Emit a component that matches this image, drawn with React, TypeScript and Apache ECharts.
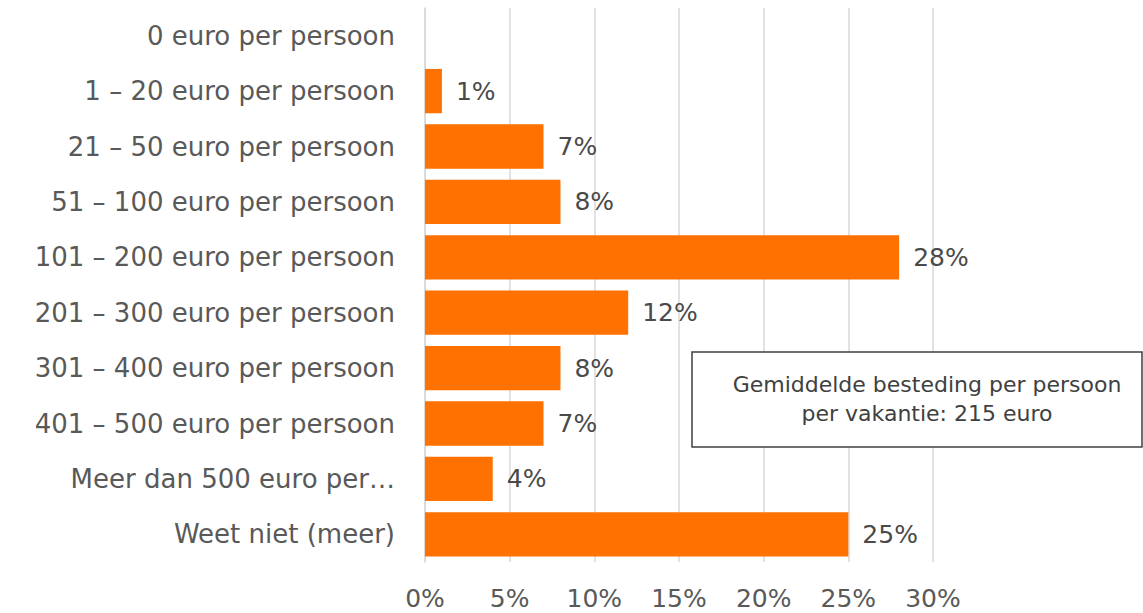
import React, { useEffect, useRef } from "react";
import * as echarts from "echarts";

const categories = [
  "0 euro per persoon",
  "1 – 20 euro per persoon",
  "21 – 50 euro per persoon",
  "51 – 100 euro per persoon",
  "101 – 200 euro per persoon",
  "201 – 300 euro per persoon",
  "301 – 400 euro per persoon",
  "401 – 500 euro per persoon",
  "Meer dan 500 euro per…",
  "Weet niet (meer)",
];
const values = [0, 1, 7, 8, 28, 12, 8, 7, 4, 25];
const noteLines = ["Gemiddelde besteding per persoon", "per vakantie: 215 euro"];

const FONT = "DejaVu Sans";

export default function App() {
  const ref = useRef<HTMLDivElement>(null);
  useEffect(() => {
    const chart = echarts.init(ref.current!, null, { renderer: "svg" });
    chart.setOption({
      animation: false,
      backgroundColor: "#ffffff",
      grid: { left: 425, right: 210, top: 8, bottom: 51, containLabel: false },
      xAxis: {
        type: "value",
        min: 0,
        max: 30,
        interval: 5,
        axisLine: { show: false },
        axisTick: { show: false },
        splitLine: { show: true, lineStyle: { color: "#d9d9d9", width: 1.5 } },
        axisLabel: {
          formatter: "{value}%",
          color: "#595959",
          fontFamily: FONT,
          fontSize: 25,
          margin: 24,
        },
      },
      yAxis: {
        type: "category",
        inverse: true,
        data: categories,
        axisLine: { show: true, lineStyle: { color: "#d9d9d9", width: 1.5 } },
        axisTick: { show: false },
        axisLabel: {
          color: "#595959",
          fontFamily: FONT,
          fontSize: 26,
          margin: 30,
        },
      },
      series: [
        {
          type: "bar",
          data: values.map((v) => (v === 0 ? null : v)),
          barCategoryGap: "20%",
          itemStyle: { color: "#FF7100" },
          label: {
            show: true,
            position: "right",
            distance: 14,
            formatter: "{c}%",
            color: "#4a4a4a",
            fontFamily: FONT,
            fontSize: 25,
          },
        },
      ],
      graphic: [
        {
          type: "rect",
          shape: { x: 692, y: 352, width: 450, height: 95 },
          style: { fill: "#ffffff", stroke: "#404040", lineWidth: 1.5 },
          z: 100,
        },
        {
          type: "text",
          x: 927,
          y: 399,
          z: 101,
          style: {
            text: noteLines.join("\n"),
            fill: "#404040",
            font: `22px "${FONT}"`,
            align: "center",
            verticalAlign: "middle",
            lineHeight: 29,
          },
        },
      ],
    });
    return () => chart.dispose();
  }, []);
  return (
    <div
      ref={ref}
      style={{ position: "fixed", left: 0, top: 0, width: 1143, height: 613 }}
    />
  );
}
